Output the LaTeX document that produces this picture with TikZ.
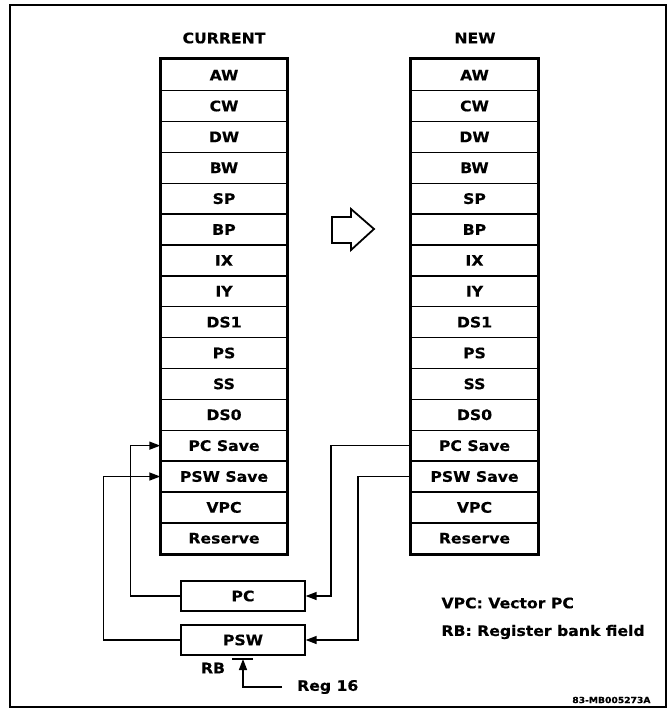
\documentclass[tikz,border=0pt]{standalone}
\usepackage{fontspec}
\setsansfont{DejaVu Sans}[FakeStretch=1.08, BoldFeatures={FakeBold=0.4}]
\usetikzlibrary{arrows.meta}
\begin{document}
\begin{tikzpicture}[x=1pt,y=-1pt,
  font=\sffamily\bfseries\fontsize{14.5}{17}\selectfont,
  regbox/.style={draw, line width=1.4pt, minimum width=126pt, minimum height=30.875pt, inner sep=0pt, anchor=north},
  srcbox/.style={draw, line width=1.3pt, minimum width=124pt, minimum height=30pt, inner sep=0pt},
  conn/.style={line width=1.4pt},
  arr/.style={conn, -{Triangle[length=11pt,width=8pt]}}]
\useasboundingbox (0,0) rectangle (669,709);
\draw[line width=1.5pt] (10,5) rectangle (666,707);
\node (curT) at (224,38) {CURRENT};
\node (newT) at (475,38) {NEW};
\foreach \lab [count=\i] in {AW,CW,DW,BW,SP,BP,IX,IY,DS1,PS,SS,DS0,PC Save,PSW Save,VPC,Reserve} {
  \node[regbox] (cur\i) at (224, {59+(\i-1)*30.875}) {\lab};
  \node[regbox] (new\i) at (474.5, {59+(\i-1)*30.875}) {\lab};
}
\draw[line width=3pt] (cur1.north west) rectangle (cur16.south east);
\draw[line width=3pt] (new1.north west) rectangle (new16.south east);
% hollow arrow
\draw[line width=1.8pt, line join=miter] (332,217) -- (351,217) -- (351,209) -- (374,229) -- (351,250) -- (351,243) -- (332,243) -- cycle;
% PC and PSW
\node[srcbox] (pc) at (243,596) {PC};
\node[srcbox] (psw) at (243,640) {PSW};
\draw[arr] (pc.west) -- ++(-50,0) |- (cur13.west);
\draw[arr] (psw.west) -- ++(-77,0) |- (cur14.west);
\draw[arr] (new13.west) -- ++(-80,0) |- (pc.east);
\draw[arr] (new14.west) -- ++(-53,0) |- (psw.east);
% RB
\coordinate (rb) at (243,659);
\draw[conn] ([xshift=-11pt]rb) -- ([xshift=10pt]rb);
\node (rbT) at (213,668) {RB};
\node[anchor=west, inner sep=0pt] (reg) at (297,687) {Reg 16};
\draw[arr] ([xshift=-15pt]reg.west) -| (rb);
% legend
\node[anchor=west] (vpc) at (438,603) {VPC: Vector PC};
\node[anchor=west] (rbl) at (438,632) {RB: Register bank field};
\node[anchor=east, font=\sffamily\bfseries\fontsize{8.5}{10}\selectfont] (code) at (654,700) {83-MB005273A};
\end{tikzpicture}
\end{document}
